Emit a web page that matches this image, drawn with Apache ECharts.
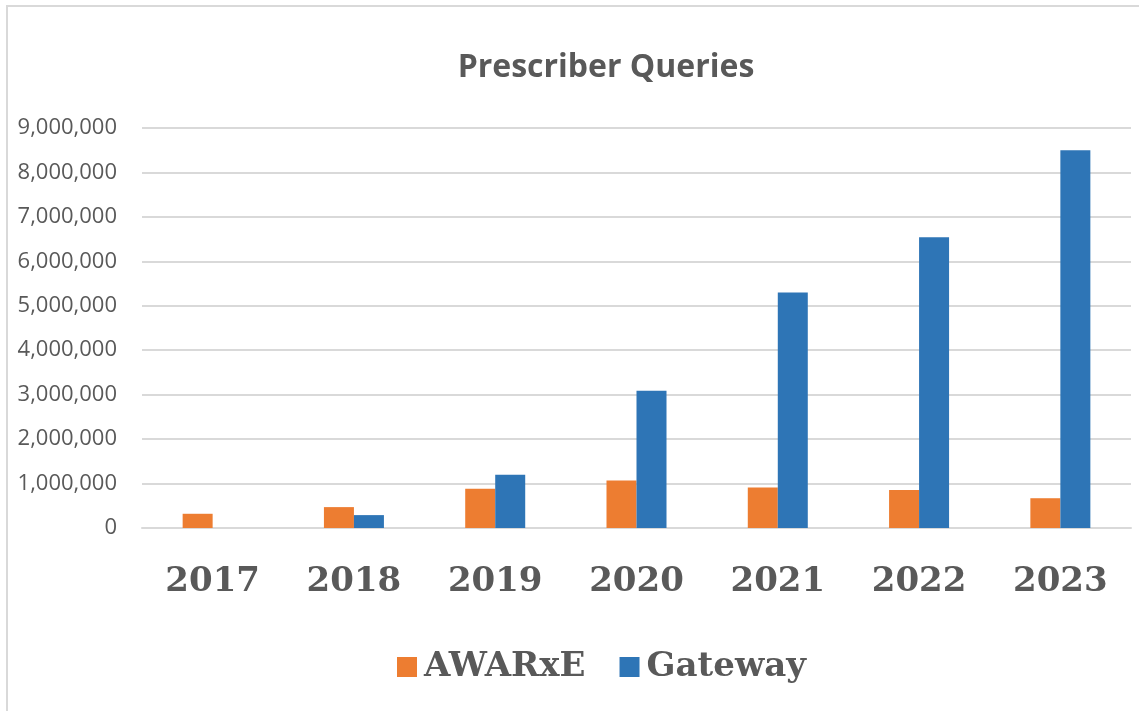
<!DOCTYPE html>
<html style="height: 100%">

<head>
  <meta charset="utf-8">
  <script type="text/javascript" src="https://cdn.jsdelivr.net/npm/echarts/dist/echarts.min.js"></script>
</head>

<body style="margin: 0; height: 100%; background: #fff">
  <div id="container" style="width: 1139px; height: 711px"></div>
  <script type="text/javascript">
    var years = ['2017', '2018', '2019', '2020', '2021', '2022', '2023'];
    var awarxe = [320000, 470000, 885000, 1070000, 910000, 855000, 670000];
    var gateway = [0, 290000, 1200000, 3090000, 5300000, 6540000, 8500000];
    var yTicks = { min: 0, max: 9000000, interval: 1000000 };

    var _gray = '#595959';
    var _grid = '#D9D9D9';
    var myChart = echarts.init(document.getElementById('container'));

    function fmt(v) {
      return String(v).replace(/\B(?=(\d{3})+(?!\d))/g, ',');
    }

    var option = {
      animation: false,
      backgroundColor: '#fff',
      title: {
        text: 'Prescriber Queries',
        left: 601,
        textAlign: 'center',
        top: 47,
        textStyle: {
          fontFamily: 'Open Sans',
          fontWeight: 'bold',
          fontSize: 32,
          color: _gray
        }
      },
      legend: {
        top: 645,
        left: 392,
        icon: 'rect',
        itemWidth: 20,
        itemHeight: 20,
        itemGap: 34,
        textStyle: {
          fontFamily: 'DejaVu Serif',
          fontWeight: 'bold',
          fontSize: 34,
          color: _gray,
          padding: [0, 0, 0, 2]
        },
        data: ['AWARxE', 'Gateway']
      },
      grid: {
        left: 142,
        right: 8,
        top: 128,
        bottom: 183,
        containLabel: false
      },
      xAxis: {
        type: 'category',
        data: years,
        axisTick: { show: false },
        axisLine: { lineStyle: { color: _grid, width: 2 } },
        axisLabel: {
          margin: 37,
          fontFamily: 'DejaVu Serif',
          fontWeight: 'bold',
          fontSize: 34,
          color: _gray
        }
      },
      yAxis: {
        type: 'value',
        min: yTicks.min,
        max: yTicks.max,
        interval: yTicks.interval,
        axisLine: { show: false },
        axisTick: { show: false },
        splitLine: { lineStyle: { color: _grid, width: 2 } },
        axisLabel: {
          margin: 25,
          fontFamily: 'Open Sans',
          fontSize: 22,
          color: _gray,
          formatter: fmt
        }
      },
      series: [{
        name: 'AWARxE',
        type: 'bar',
        barWidth: 30,
        barGap: '0%',
        itemStyle: { color: '#ED7D31' },
        data: awarxe
      }, {
        name: 'Gateway',
        type: 'bar',
        barWidth: 30,
        barGap: '0%',
        itemStyle: { color: '#2E75B6' },
        data: gateway
      }],
      graphic: [{
        type: 'polyline',
        silent: true,
        shape: { points: [[7, 711], [7, 6], [1139, 6]] },
        style: { stroke: _grid, lineWidth: 2, fill: null }
      }]
    };
    myChart.setOption(option);
  </script>
</body>

</html>
